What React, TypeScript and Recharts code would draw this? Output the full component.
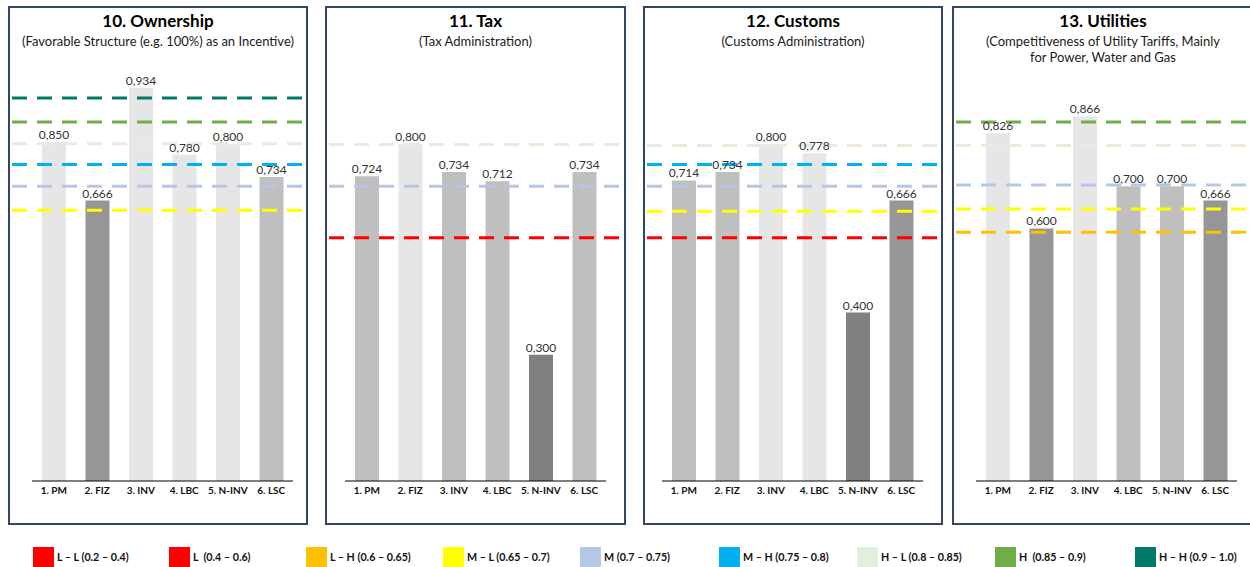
import React from 'react';
import { BarChart, Bar, XAxis, YAxis, ReferenceLine, LabelList, Cell } from 'recharts';

const FONT = 'Lato, "Open Sans", sans-serif';

const categories = ['1. PM', '2. FIZ', '3. INV', '4. LBC', '5. N-INV', '6. LSC'];

// Bar heights as drawn, and the printed data labels
const ownershipValues = [0.805, 0.666, 0.934, 0.775, 0.8, 0.722];
const ownershipLabels = ['0,850', '0,666', '0,934', '0,780', '0,800', '0,734'];
const taxValues = [0.724, 0.8, 0.734, 0.712, 0.3, 0.734];
const taxLabels = ['0,724', '0,800', '0,734', '0,712', '0,300', '0,734'];
const customsValues = [0.714, 0.734, 0.8, 0.778, 0.4, 0.666];
const customsLabels = ['0,714', '0,734', '0,800', '0,778', '0,400', '0,666'];
const utilitiesValues = [0.826, 0.6, 0.866, 0.7, 0.7, 0.666];
const utilitiesLabels = ['0,826', '0,600', '0,866', '0,700', '0,700', '0,666'];

// Legend bands
const bandLabels = [
  'L – L (0.2 – 0.4)',
  'L  (0.4 – 0.6)',
  'L – H (0.6 – 0.65)',
  'M – L (0.65 – 0.7)',
  'M (0.7 – 0.75)',
  'M – H (0.75 – 0.8)',
  'H – L (0.8 – 0.85)',
  'H  (0.85 – 0.9)',
  'H – H (0.9 – 1.0)',
];
const bandColors = ['#FF0000', '#FF0000', '#FFC000', '#FFFF00', '#B4C7E7', '#00B0F0', '#E2EFDA', '#70AD47', '#00796B'];

// Dashed reference lines per panel: band index and value
const ownershipLineBands = [8, 7, 6, 5, 4, 3];
const ownershipLineValues = [0.91, 0.853, 0.801, 0.752, 0.7, 0.643];
const taxLineBands = [6, 4, 1];
const taxLineValues = [0.799, 0.7, 0.578];
const customsLineBands = [6, 5, 4, 3, 1];
const customsLineValues = [0.797, 0.752, 0.7, 0.641, 0.578];
const utilitiesLineBands = [7, 6, 4, 3, 2];
const utilitiesLineValues = [0.853, 0.797, 0.703, 0.646, 0.591];

const legendX = [33, 169, 306, 443, 580, 719, 857, 995, 1135];

function barColor(v: number) {
  if (v >= 0.77) return '#E6E6E6';
  if (v >= 0.7) return '#BFBFBF';
  if (v >= 0.6) return '#969696';
  return '#808080';
}

type PanelProps = {
  left: number;
  width: number;
  ml: number;
  mr: number;
  title: string;
  subtitle: string[];
  values: number[];
  labels: string[];
  lineBands: number[];
  lineValues: number[];
};

function Panel({ left, width, ml, mr, title, subtitle, values, labels, lineBands, lineValues }: PanelProps) {
  const rows = categories.map((c, i) => ({ cat: c, value: values[i], label: labels[i] }));
  const extL = ml - 4;
  const extR = mr - 3;
  return (
    <>
      <div
        style={{
          position: 'absolute',
          left,
          top: 6,
          width,
          height: 519,
          boxSizing: 'border-box',
          border: '2px solid #33446A',
        }}
      />
      <div
        style={{
          position: 'absolute',
          left,
          width,
          top: 11,
          textAlign: 'center',
          fontWeight: 700,
          fontSize: 17,
          lineHeight: '20px',
          color: '#000',
        }}
      >
        {title}
      </div>
      <div
        style={{
          position: 'absolute',
          left,
          width,
          top: 33,
          textAlign: 'center',
          fontSize: 13,
          lineHeight: '16px',
          color: '#1a1a1a',
        }}
      >
        {subtitle.map((s, i) => (
          <div key={i}>{s}</div>
        ))}
      </div>
      <div style={{ position: 'absolute', left, top: 0 }}>
        <BarChart
          width={width}
          height={525}
          data={rows}
          margin={{ top: 60, right: mr, bottom: 14, left: ml }}
          barSize={24}
        >
          <XAxis
            dataKey="cat"
            interval={0}
            height={30}
            axisLine={{ stroke: '#000', strokeWidth: 1 }}
            tickLine={false}
            tickSize={4}
            tickMargin={2}
            tick={{ fontSize: 10, fontWeight: 700, fill: '#111', fontFamily: FONT }}
          />
          <YAxis hide type="number" domain={[0, 1]} allowDataOverflow />
          <Bar dataKey="value" isAnimationActive={false}>
            {rows.map((r, i) => (
              <Cell key={i} fill={barColor(r.value)} />
            ))}
            <LabelList
              dataKey="label"
              position="top"
              offset={3}
              style={{ fontSize: 12, fill: '#333333', fontFamily: FONT }}
            />
          </Bar>
          {lineValues.map((v, i) => {
            const color = bandColors[lineBands[i]];
            return (
              <ReferenceLine
                key={i}
                y={v}
                ifOverflow="visible"
                stroke={color}
                strokeWidth={3}
                strokeDasharray="15 10"
                shape={(p: any) => (
                  <line
                    x1={p.x1 - extL}
                    y1={p.y1}
                    x2={p.x2 + extR}
                    y2={p.y2}
                    stroke={color}
                    strokeWidth={3}
                    strokeDasharray="15 10"
                  />
                )}
              />
            );
          })}
        </BarChart>
      </div>
    </>
  );
}

export default function App() {
  return (
    <div
      style={{
        position: 'absolute',
        left: 0,
        top: 0,
        width: 1250,
        height: 567,
        overflow: 'hidden',
        background: '#fff',
        fontFamily: FONT,
      }}
    >
      <Panel
        left={8}
        width={300}
        ml={24}
        mr={15}
        title="10. Ownership"
        subtitle={['(Favorable Structure (e.g. 100%) as an Incentive)']}
        values={ownershipValues}
        labels={ownershipLabels}
        lineBands={ownershipLineBands}
        lineValues={ownershipLineValues}
      />
      <Panel
        left={325}
        width={301}
        ml={20}
        mr={20}
        title="11. Tax"
        subtitle={['(Tax Administration)']}
        values={taxValues}
        labels={taxLabels}
        lineBands={taxLineBands}
        lineValues={taxLineValues}
      />
      <Panel
        left={643}
        width={300}
        ml={19}
        mr={20}
        title="12. Customs"
        subtitle={['(Customs Administration)']}
        values={customsValues}
        labels={customsLabels}
        lineBands={customsLineBands}
        lineValues={customsLineValues}
      />
      <Panel
        left={952}
        width={302}
        ml={24}
        mr={17}
        title="13. Utilities"
        subtitle={['(Competitiveness of Utility Tariffs, Mainly', 'for Power, Water and Gas']}
        values={utilitiesValues}
        labels={utilitiesLabels}
        lineBands={utilitiesLineBands}
        lineValues={utilitiesLineValues}
      />
      {bandLabels.map((b, i) => (
        <div key={i} style={{ position: 'absolute', left: legendX[i], top: 547, height: 20 }}>
          <div style={{ position: 'absolute', left: 0, top: 0, width: 21, height: 20, background: bandColors[i] }} />
          <div
            style={{
              position: 'absolute',
              left: 24,
              top: 3,
              whiteSpace: 'pre',
              fontSize: 10.7,
              fontWeight: 700,
              lineHeight: '14px',
              color: '#111',
            }}
          >
            {b}
          </div>
        </div>
      ))}
    </div>
  );
}
